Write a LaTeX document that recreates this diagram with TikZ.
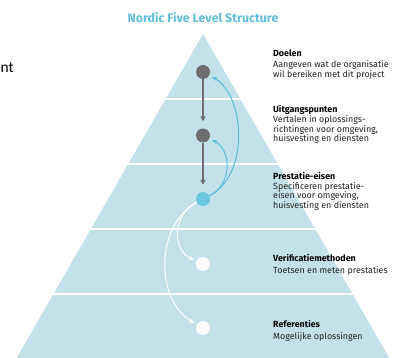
\documentclass[tikz,border=0pt]{standalone}
\usepackage{fontspec}
\setmainfont{Fira Sans}
\newfontfamily\carl{Carlito}
\usetikzlibrary{arrows.meta}
\definecolor{pyr}{RGB}{195,225,234}
\definecolor{ttl}{RGB}{96,190,215}
\definecolor{dotgray}{RGB}{110,110,112}
\definecolor{dotcyan}{RGB}{108,197,222}
\definecolor{arrcyan}{RGB}{90,190,218}
\definecolor{txt}{RGB}{35,35,35}
\tikzset{
  dotnode/.style={circle, inner sep=0pt, minimum size=14pt},
  head/.style={anchor=base west, inner sep=0pt, font=\fontsize{8.9}{10}\selectfont\bfseries, text=black},
  desc/.style={anchor=base west, inner sep=0pt, font=\fontsize{8.9}{10}\selectfont, text=txt},
  grayarr/.style={draw=dotgray, line width=1.2pt, -{Triangle[length=5pt,width=5pt]}, shorten >=7pt},
  cyanarr/.style={draw=arrcyan, line width=1pt, -{Stealth[length=5pt,width=4.5pt]}, shorten >=3pt},
  whitearr/.style={draw=white, line width=1pt, -{Stealth[length=5pt,width=4.5pt]}, shorten >=3pt},
  divider/.style={draw=white, line width=1.6pt}
}
\begin{document}
\begin{tikzpicture}[x=1pt,y=-1pt]
\useasboundingbox (0,0) rectangle (404,358);
% pyramid
\fill[pyr] (203,34) -- (389.3,358) -- (16.7,358) -- cycle;
\foreach \yy in {99,164,229,294}{
  \pgfmathsetmacro{\hw}{0.575*(\yy-34)+2}
  \draw[divider] (203-\hw,\yy) -- (203+\hw,\yy);
}
% title
\node[anchor=base, inner sep=0pt, font=\fontsize{12.4}{14}\selectfont\bfseries, text=ttl] (title) at (203,23) {Nordic Five Level Structure};
% stray text
\node[anchor=base west, inner sep=0pt, font=\carl\fontsize{15.5}{18}\selectfont, text=black] (nt) at (0.5,73) {nt};
% dots
\node[dotnode, fill=dotgray] (d1) at (203,72) {};
\node[dotnode, fill=dotgray] (d2) at (203,135.5) {};
\node[dotnode, fill=dotcyan] (d3) at (203,199) {};
\node[dotnode, fill=white] (d4) at (203,264) {};
\node[dotnode, fill=white] (d5) at (203,328) {};
% arrows
\draw[grayarr] (d1) -- (d2);
\draw[grayarr] (d2) -- (d3);
\draw[cyanarr] (d3) .. controls (250,175) and (245,95) .. (d1);
\draw[cyanarr] (d3) .. controls (232,185) and (232,150) .. (d2);
\draw[whitearr] (d3) .. controls (172,215) and (172,250) .. (d4);
\draw[whitearr] (d3) .. controls (155,225) and (155,300) .. (d5);
% texts
\node[head] (h1) at (273,57) {Doelen};
\node[desc] (t11) at (273,67.5) {Aangeven wat de organisatie};
\node[desc] (t12) at (273,77.5) {wil bereiken met dit project};
\node[head] (h2) at (273,113) {Uitgangspunten};
\node[desc] (t21) at (273,123) {Vertalen in oplossings-};
\node[desc] (t22) at (273,132.5) {richtingen voor omgeving,};
\node[desc] (t23) at (273,142) {huisvesting en diensten};
\node[head] (h3) at (273,180) {Prestatie-eisen};
\node[desc] (t31) at (273,189.5) {Specificeren prestatie-};
\node[desc] (t32) at (273,199) {eisen voor omgeving,};
\node[desc] (t33) at (273,208.5) {huisvesting en diensten};
\node[head] (h4) at (273,261.5) {Verificatiemethoden};
\node[desc] (t41) at (273,273) {Toetsen en meten prestaties};
\node[head] (h5) at (273,327.5) {Referenties};
\node[desc] (t51) at (273,339) {Mogelijke oplossingen};
\end{tikzpicture}
\end{document}
